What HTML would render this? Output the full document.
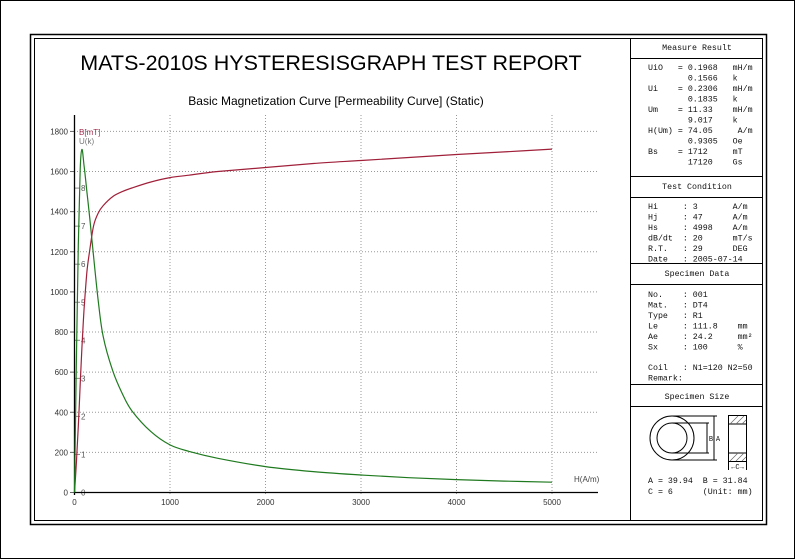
<!DOCTYPE html>
<html><head><meta charset="utf-8"><style>
body{margin:0;background:#fff;}
svg{display:block;font-family:"Liberation Sans",sans-serif;}
.m{font-family:"Liberation Mono",monospace;font-size:8.3px;fill:#111;}
.m text{white-space:pre;}
</style></head><body>
<svg id="c" width="796" height="560" viewBox="0 0 796 560">
<rect x="0.5" y="0.5" width="794" height="558" fill="#fff" stroke="#000"/>
<rect x="30.5" y="34.5" width="736" height="490" fill="none" stroke="#000" stroke-width="1.5"/>
<rect x="34.5" y="38.5" width="728" height="482" fill="none" stroke="#000"/>
<line x1="630.5" y1="38" x2="630.5" y2="521" stroke="#000"/>
<text x="331" y="70" font-size="21.5" text-anchor="middle" fill="#000">MATS-2010S HYSTERESISGRAPH TEST REPORT</text>
<text x="336" y="105" font-size="12" text-anchor="middle" fill="#000">Basic Magnetization Curve [Permeability Curve] (Static)</text>
<g id="grid"></g>
<g id="axes"></g>
<g id="series"></g>
<g class="m">
<line x1="631" y1="58.5" x2="763" y2="58.5" stroke="#000"/>
<line x1="631" y1="176.5" x2="763" y2="176.5" stroke="#000"/>
<line x1="631" y1="197.5" x2="763" y2="197.5" stroke="#000"/>
<line x1="631" y1="263.5" x2="763" y2="263.5" stroke="#000"/>
<line x1="631" y1="284.5" x2="763" y2="284.5" stroke="#000"/>
<line x1="631" y1="384.5" x2="763" y2="384.5" stroke="#000"/>
<line x1="631" y1="406.5" x2="763" y2="406.5" stroke="#000"/>
<text x="697" y="50" text-anchor="middle">Measure Result</text>
<text x="697" y="189" text-anchor="middle">Test Condition</text>
<text x="697" y="276" text-anchor="middle">Specimen Data</text>
<text x="697" y="399" text-anchor="middle">Specimen Size</text>
<g>
<text x="648" y="70">UiO   = 0.1968   mH/m</text>
<text x="648" y="80.5">        0.1566   k</text>
<text x="648" y="91">Ui    = 0.2306   mH/m</text>
<text x="648" y="101.5">        0.1835   k</text>
<text x="648" y="112">Um    = 11.33    mH/m</text>
<text x="648" y="122.5">        9.017    k</text>
<text x="648" y="133">H(Um) = 74.05     A/m</text>
<text x="648" y="143.5">        0.9305   Oe</text>
<text x="648" y="154">Bs    = 1712     mT</text>
<text x="648" y="164.5">        17120    Gs</text>
</g>
<g>
<text x="648" y="209">Hi     : 3       A/m</text>
<text x="648" y="219.5">Hj     : 47      A/m</text>
<text x="648" y="230">Hs     : 4998    A/m</text>
<text x="648" y="240.5">dB/dt  : 20      mT/s</text>
<text x="648" y="251">R.T.   : 29      DEG</text>
<text x="648" y="261.5">Date   : 2005-07-14</text>
</g>
<g>
<text x="648" y="297">No.    : 001</text>
<text x="648" y="307.5">Mat.   : DT4</text>
<text x="648" y="318">Type   : R1</text>
<text x="648" y="328.5">Le     : 111.8    mm</text>
<text x="648" y="339">Ae     : 24.2     mm²</text>
<text x="648" y="349.5">Sx     : 100      %</text>
<text x="648" y="370">Coil   : N1=120 N2=50</text>
<text x="648" y="380.5">Remark:</text>
</g>
<g stroke="#000" fill="none" stroke-width="1">
<circle cx="672" cy="438" r="22"/>
<circle cx="672" cy="438" r="15"/>
<line x1="672" y1="416" x2="717" y2="416"/><line x1="672" y1="460" x2="717" y2="460"/>
<line x1="672" y1="423" x2="709" y2="423"/><line x1="672" y1="453" x2="709" y2="453"/>
<line x1="714" y1="416" x2="714" y2="460"/><line x1="707" y1="423" x2="707" y2="453"/>
<rect x="728.5" y="415.5" width="18" height="46"/>
<line x1="729" y1="424" x2="746" y2="424"/><line x1="729" y1="453" x2="746" y2="453"/>
<path d="M730 424l8-8M736 424l8-8M742 424l4-4M730 461l8-8M736 461l8-8M742 461l4-4" stroke="#666" stroke-width="0.7"/>
<line x1="728.5" y1="462" x2="728.5" y2="470"/><line x1="746.5" y1="462" x2="746.5" y2="470"/>
</g>
<text x="711" y="441" font-size="7" text-anchor="middle">B</text>
<text x="718" y="441" font-size="7" text-anchor="middle">A</text>
<text x="737.5" y="469" font-size="7" text-anchor="middle">←C→</text>
<g>
<text x="648" y="483">A = 39.94  B = 31.84</text>
<text x="648" y="494">C = 6      (Unit: mm)</text>
</g>
</g>
</svg>
<script>
const hVals=[0,20,40,60,78,100,130,160,200,250,300,400,500,600,800,1000,1200,1500,2000,2500,3000,3500,4000,4500,5000];
const bVals=[0,150,330,540,720,910,1100,1210,1330,1395,1430,1475,1500,1518,1548,1570,1582,1600,1620,1640,1655,1670,1685,1698,1712];
const uVals=[0,3.5,6.5,8.5,9.017,8.6,7.9,7.2,6.2,5.0,4.1,3.2,2.6,2.15,1.6,1.25,1.08,0.9,0.68,0.55,0.46,0.39,0.34,0.30,0.27];
const xTicks=[0,1000,2000,3000,4000,5000];
const bTicks=[0,200,400,600,800,1000,1200,1400,1600,1800];
const uTicks=[0,1,2,3,4,5,6,7,8];
const NS="http://www.w3.org/2000/svg";
const X=h=>74.5+h*0.0955;
const YB=b=>492.5-b*0.2006;
const YU=u=>492.5-u*38.05;
function mk(t,a,p){const e=document.createElementNS(NS,t);for(const k in a)e.setAttribute(k,a[k]);p.appendChild(e);return e;}
function smooth(pts){let d='M'+pts[0][0].toFixed(1)+' '+pts[0][1].toFixed(1);
 for(let i=0;i<pts.length-1;i++){const p0=pts[Math.max(0,i-1)],p1=pts[i],p2=pts[i+1],p3=pts[Math.min(pts.length-1,i+2)];
 const c1=[p1[0]+(p2[0]-p0[0])/6,p1[1]+(p2[1]-p0[1])/6],c2=[p2[0]-(p3[0]-p1[0])/6,p2[1]-(p3[1]-p1[1])/6];
 d+='C'+c1.map(v=>v.toFixed(1)).join(' ')+' '+c2.map(v=>v.toFixed(1)).join(' ')+' '+p2[0].toFixed(1)+' '+p2[1].toFixed(1);}
 return d;}
const grid=document.getElementById('grid'),axes=document.getElementById('axes'),ser=document.getElementById('series');
xTicks.forEach(v=>{
 if(v>0){const l=mk('line',{x1:X(v),y1:115,x2:X(v),y2:495,stroke:'#999','stroke-dasharray':'1,2'},grid);
 
 }
 const t=mk('text',{x:X(v),y:505,'font-size':8,'text-anchor':'middle',fill:'#333'},axes);t.textContent=v;
 
 
});
bTicks.forEach(v=>{
 if(v>0){const l=mk('line',{x1:74,y1:YB(v),x2:598,y2:YB(v),stroke:'#999','stroke-dasharray':'1,2'},grid);
 
 }
 mk('line',{x1:70,y1:YB(v),x2:74,y2:YB(v),stroke:'#666'},axes);
 const t=mk('text',{x:68,y:YB(v)+3,'font-size':8,'text-anchor':'end',fill:'#333'},axes);t.textContent=v;
 
 
});
uTicks.forEach(v=>{
 mk('line',{x1:75,y1:YU(v),x2:80,y2:YU(v),stroke:'#888'},axes);
 const t=mk('text',{x:81,y:YU(v)+3,'font-size':8,fill:'#555'},axes);t.textContent=v;
 
 
});
const ax=mk('path',{d:'M74.5 115V495M74 492.5H598',stroke:'#000','stroke-width':1.3,fill:'none'},axes);


const lb=mk('text',{x:79,y:135,'font-size':8,fill:'#a03050'},axes);lb.textContent='B[mT]';


const lu=mk('text',{x:79,y:144,'font-size':8,fill:'#777'},axes);lu.textContent='U(k)';


const lh=mk('text',{x:574,y:482,'font-size':8,fill:'#444'},axes);lh.textContent='H(A/m)';


const pb=mk('path',{d:smooth(hVals.map((h,i)=>[X(h),YB(bVals[i])])),stroke:'#a0203a','stroke-width':1.2,fill:'none'},ser);


const pu=mk('path',{d:smooth(hVals.map((h,i)=>[X(h),YU(uVals[i])])),stroke:'#1f7a1f','stroke-width':1.2,fill:'none'},ser);


</script>
</body></html>
